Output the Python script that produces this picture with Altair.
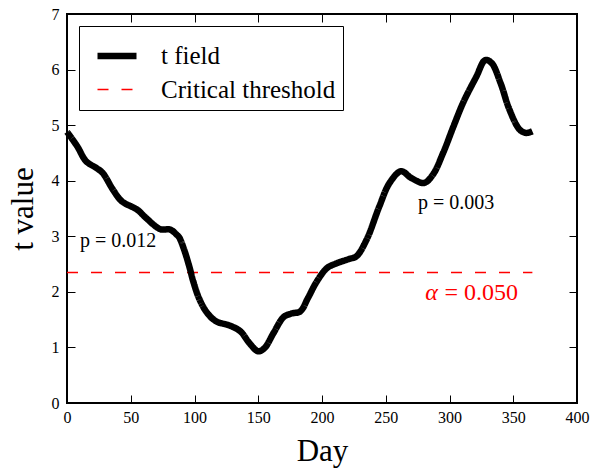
import altair as alt
import pandas as pd

# ---- data ----
days = [0, 8, 15, 23, 28, 36, 43, 55, 62, 73, 81, 86, 88, 92, 96, 99, 104, 110,
        117, 128, 136, 143, 150, 155, 162, 170, 176, 183, 189, 196, 204, 211,
        221, 227, 235, 245, 253, 262, 270, 280, 287, 295, 303, 311, 321, 328,
        333, 340, 347, 355, 360, 365]
t_vals = [4.88, 4.62, 4.35, 4.23, 4.14, 3.84, 3.63, 3.48, 3.33, 3.13, 3.12, 3.03,
          2.98, 2.75, 2.45, 2.19, 1.86, 1.62, 1.47, 1.39, 1.29, 1.08, 0.93, 0.99,
          1.26, 1.55, 1.61, 1.65, 1.89, 2.19, 2.43, 2.51, 2.59, 2.64, 2.94, 3.54,
          3.96, 4.17, 4.05, 3.96, 4.11, 4.50, 4.97, 5.42, 5.87, 6.17, 6.12, 5.76,
          5.28, 4.92, 4.86, 4.89]

series_names = ["t field", "Critical threshold"]
thr_start = [0]
thr_end = [365]
thr_value = [2.35]

p_text = ["p = 0.012", "p = 0.003"]
p_day = [10.2, 275.3]
p_t = [2.92, 3.60]

alpha_sym = ["α"]
alpha_rest = ["= 0.050"]
alpha_day = [281.0]
alpha_rest_day = [296.0]
alpha_t = [1.98]

x_ticks = [0, 50, 100, 150, 200, 250, 300, 350, 400]
y_ticks = [0, 1, 2, 3, 4, 5, 6, 7]

FONT = "Liberation Serif"

curve_df = pd.DataFrame({"day": days, "t": t_vals, "series": series_names[0]})
thr_df = pd.DataFrame({"d0": thr_start, "d1": thr_end, "t": thr_value,
                       "series": series_names[1]})
p_df = pd.DataFrame({"day": p_day, "t": p_t, "label": p_text})
a1_df = pd.DataFrame({"day": alpha_day, "t": alpha_t, "label": alpha_sym})
a2_df = pd.DataFrame({"day": alpha_rest_day, "t": alpha_t, "label": alpha_rest})

xscale = alt.Scale(domain=[0, 400], nice=False, zero=False)
yscale = alt.Scale(domain=[0, 7], nice=False, zero=False)

leg = alt.Legend(orient="none", legendX=12, legendY=12, symbolType="stroke",
                 symbolSize=1521, labelFont=FONT, labelFontSize=25,
                 labelColor="black", labelOffset=21, padding=7,
                 strokeColor="black", fillColor="white", rowPadding=0,
                 symbolOffset=8, labelLimit=400, cornerRadius=0)

color_enc = alt.Color("series:N", title=None, legend=leg,
                      scale=alt.Scale(domain=series_names, range=["black", "red"]))
dash_enc = alt.StrokeDash("series:N", title=None, legend=leg,
                          scale=alt.Scale(domain=series_names, range=[[1, 0], [11, 13]]))
width_enc = alt.StrokeWidth("series:N", title=None, legend=leg,
                            scale=alt.Scale(domain=series_names, range=[6.5, 1.5]))

line = alt.Chart(curve_df).mark_line(interpolate="catmull-rom", strokeJoin="round").encode(
    x=alt.X("day:Q", scale=xscale, title="Day",
            axis=alt.Axis(orient="bottom", values=x_ticks, labelPadding=6,
                          titlePadding=11, labelFlush=False)),
    y=alt.Y("t:Q", scale=yscale, title="t value",
            axis=alt.Axis(orient="left", values=y_ticks, labelPadding=8,
                          titlePadding=12, labelFlush=False)),
    color=color_enc, strokeDash=dash_enc, strokeWidth=width_enc,
)

rule = alt.Chart(thr_df).mark_rule().encode(
    x=alt.X("d0:Q", scale=xscale, title=None,
            axis=alt.Axis(orient="top", values=x_ticks, labels=False)),
    x2="d1:Q",
    y=alt.Y("t:Q", scale=yscale, title=None,
            axis=alt.Axis(orient="right", values=y_ticks, labels=False)),
    color=color_enc, strokeDash=dash_enc, strokeWidth=width_enc,
)

p_txt = alt.Chart(p_df).mark_text(font=FONT, fontSize=20, align="left",
                                  baseline="middle", color="black").encode(
    x=alt.X("day:Q", scale=xscale, axis=None),
    y=alt.Y("t:Q", scale=yscale, axis=None),
    text="label:N",
)

a1 = alt.Chart(a1_df).mark_text(font=FONT, fontSize=24, fontStyle="italic",
                               align="left", baseline="middle", color="red").encode(
    x=alt.X("day:Q", scale=xscale, axis=None),
    y=alt.Y("t:Q", scale=yscale, axis=None),
    text="label:N",
)
a2 = alt.Chart(a2_df).mark_text(font=FONT, fontSize=24, align="left",
                               baseline="middle", color="red").encode(
    x=alt.X("day:Q", scale=xscale, axis=None),
    y=alt.Y("t:Q", scale=yscale, axis=None),
    text="label:N",
)

chart = alt.layer(rule, line, p_txt, a1, a2).resolve_axis(
    x="independent", y="independent"
).properties(
    width=510, height=389,
    autosize=alt.AutoSizeParams(type="none"),
    padding={"left": 67, "top": 14, "right": 14, "bottom": 66},
).configure_view(
    stroke="black", strokeWidth=2
).configure_axis(
    labelFont=FONT, labelFontSize=16, labelColor="black",
    titleFont=FONT, titleFontSize=31, titleFontWeight="normal", titleColor="black",
    tickColor="black", tickSize=8, tickWidth=1, domain=False, grid=False, offset=-8,
)

chart.save("out.html", embed_options={"renderer": "svg", "actions": False})
